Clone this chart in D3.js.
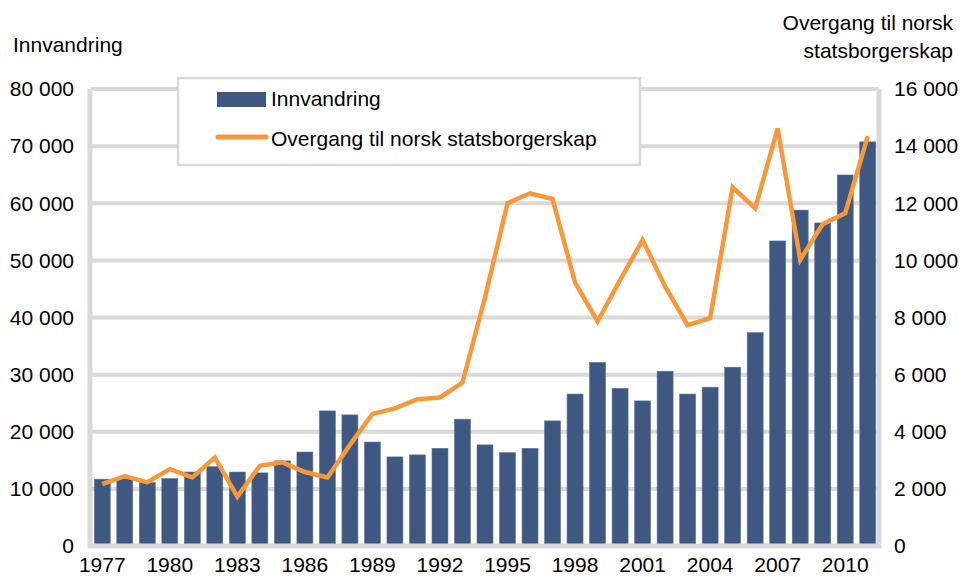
<!DOCTYPE html>
<html>
<head>
<meta charset="utf-8">
<script src="https://cdn.jsdelivr.net/npm/d3@7"></script>
<style>
  html, body { margin: 0; padding: 0; background: #fff; }
  svg { display: block; }
  text { font-family: "Liberation Sans", Arial, sans-serif; fill: #000; }
</style>
</head>
<body>
<svg id="chart" width="962" height="577"></svg>
<script>
const years = ["1977","1978","1979","1980","1981","1982","1983","1984","1985","1986",
  "1987","1988","1989","1990","1991","1992","1993","1994","1995","1996",
  "1997","1998","1999","2000","2001","2002","2003","2004","2005","2006",
  "2007","2008","2009","2010","2011"];
const innvandring = [11700, 11800, 11100, 11800, 12950, 13900, 12950, 12800, 14900, 16450,
  23650, 22950, 18200, 15600, 15950, 17100, 22200, 17700, 16350, 17100,
  21900, 26600, 32150, 27600, 25400, 30600, 26600, 27800, 31300, 37350,
  53400, 58800, 56550, 64950, 70750];
const statsborgerskap = [2170, 2450, 2230, 2690, 2400, 3100, 1730, 2810, 2930, 2590,
  2400, 3540, 4620, 4820, 5140, 5200, 5720, 8700, 12000, 12350,
  12150, 9220, 7860, 9310, 10710, 9090, 7730, 7980, 12560, 11820,
  14620, 10020, 11270, 11650, 14350];
const xTickYears = ["1977","1980","1983","1986","1989","1992","1995","1998","2001","2004","2007","2010"];
const leftTicks = [0, 10000, 20000, 30000, 40000, 50000, 60000, 70000, 80000];
const rightTicks = [0, 2000, 4000, 6000, 8000, 10000, 12000, 14000, 16000];
const seriesNames = ["Innvandring", "Overgang til norsk statsborgerskap"];
const leftTitle = "Innvandring";
const rightTitle = ["Overgang til norsk", "statsborgerskap"];

const barColor = "#3e5881";
const lineColor = "#f7993a";
const gridColor = "#d9d9d9";
const fs = 21;

const svg = d3.select("#chart");
const plot = { left: 91, right: 879, top: 89, bottom: 546 };

const x = d3.scaleBand().domain(years).range([plot.left, plot.right]).paddingInner(0.29).paddingOuter(0.145);
const yL = d3.scaleLinear().domain([0, 80000]).range([plot.bottom, plot.top]);
const yR = d3.scaleLinear().domain([0, 16000]).range([plot.bottom, plot.top]);

const fmt = v => d3.format(",")(v).replace(/,/g, " ");

// gridlines
svg.append("g").selectAll("line").data(leftTicks.filter(d => d > 0)).join("line")
  .attr("x1", plot.left).attr("x2", plot.right)
  .attr("y1", d => yL(d)).attr("y2", d => yL(d))
  .attr("stroke", gridColor).attr("stroke-width", 4);

// bars
svg.append("g").selectAll("rect").data(years).join("rect")
  .attr("x", d => x(d))
  .attr("width", x.bandwidth())
  .attr("y", (d, i) => yL(innvandring[i]))
  .attr("height", (d, i) => plot.bottom - yL(innvandring[i]))
  .attr("fill", barColor)
  .attr("stroke", "#5d77a0").attr("stroke-width", 0.6);

// frame (left, bottom, right)
svg.append("path")
  .attr("d", `M${plot.left - 1},${plot.top} V${plot.bottom} H${plot.right} V${plot.top}`)
  .attr("fill", "none").attr("stroke", gridColor).attr("stroke-width", 5);

// line
const line = d3.line()
  .x((d, i) => x(years[i]) + x.bandwidth() / 2)
  .y(d => yR(d));
svg.append("path").datum(statsborgerskap)
  .attr("d", line)
  .attr("fill", "none").attr("stroke", lineColor).attr("stroke-width", 4.5)
  .attr("stroke-linejoin", "miter").attr("stroke-linecap", "butt");

// left axis labels
svg.append("g").selectAll("text").data(leftTicks).join("text")
  .attr("x", 74).attr("y", d => yL(d)).attr("dy", "0.35em")
  .attr("text-anchor", "end").attr("font-size", fs)
  .text(fmt);

// right axis labels
svg.append("g").selectAll("text").data(rightTicks).join("text")
  .attr("x", 894).attr("y", d => yR(d)).attr("dy", "0.35em")
  .attr("text-anchor", "start").attr("font-size", fs)
  .text(fmt);

// x axis labels
svg.append("g").selectAll("text").data(xTickYears).join("text")
  .attr("x", d => x(d) + x.bandwidth() / 2).attr("y", 572)
  .attr("text-anchor", "middle").attr("font-size", fs)
  .text(d => d);

// axis titles
svg.append("text").attr("x", 13).attr("y", 52).attr("font-size", fs).text(leftTitle);
svg.append("text").attr("x", 953).attr("y", 30).attr("text-anchor", "end").attr("font-size", fs).text(rightTitle[0]);
svg.append("text").attr("x", 953).attr("y", 58).attr("text-anchor", "end").attr("font-size", fs).text(rightTitle[1]);

// legend
const lg = svg.append("g");
lg.append("rect").attr("x", 178).attr("y", 78).attr("width", 462).attr("height", 87)
  .attr("fill", "#fff").attr("stroke", gridColor).attr("stroke-width", 2.5);
lg.append("rect").attr("x", 217).attr("y", 92).attr("width", 49).attr("height", 15)
  .attr("fill", barColor);
lg.append("line").attr("x1", 218).attr("x2", 266).attr("y1", 137).attr("y2", 137)
  .attr("stroke", lineColor).attr("stroke-width", 5).attr("stroke-linecap", "round");
lg.append("text").attr("x", 271).attr("y", 106).attr("font-size", fs).text(seriesNames[0]);
lg.append("text").attr("x", 271).attr("y", 146).attr("font-size", fs).text(seriesNames[1]);
</script>
</body>
</html>
